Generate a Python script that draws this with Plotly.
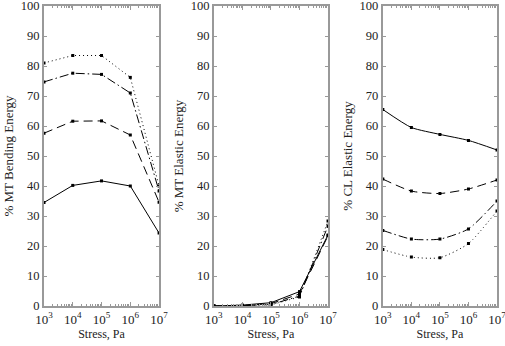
import plotly.graph_objects as go

stress = [1e3, 1e4, 1e5, 1e6, 1e7]

# Panel 1: % MT Bending Energy
mt_bend_solid = [34.5, 40.2, 41.7, 40.0, 24.3]
mt_bend_dash = [57.6, 61.6, 61.7, 57.0, 34.6]
mt_bend_dashdot = [74.7, 77.6, 77.2, 71.0, 38.3]
mt_bend_dot = [81.0, 83.5, 83.5, 76.2, 40.0]

# Panel 2: % MT Elastic Energy
mt_el_solid = [0.0, 0.3, 1.1, 4.8, 23.7]
mt_el_dash = [0.0, 0.1, 0.8, 4.0, 23.4]
mt_el_dashdot = [0.0, 0.1, 0.5, 3.3, 26.7]
mt_el_dot = [0.0, 0.1, 0.4, 3.0, 28.3]

# Panel 3: % CL Elastic Energy
cl_el_solid = [65.5, 59.5, 57.2, 55.2, 52.0]
cl_el_dash = [42.3, 38.3, 37.5, 39.0, 42.0]
cl_el_dashdot = [25.2, 22.3, 22.3, 25.7, 35.0]
cl_el_dot = [18.8, 16.3, 16.1, 20.8, 31.7]

y_titles = ["% MT Bending Energy", "% MT Elastic Energy", "% CL Elastic Energy"]
x_title = "Stress, Pa"
x_ticks = [1e3, 1e4, 1e5, 1e6, 1e7]
x_ticklabels = ["10<sup>3</sup>", "10<sup>4</sup>", "10<sup>5</sup>", "10<sup>6</sup>", "10<sup>7</sup>"]
y_ticks = list(range(0, 101, 10))

panels = [
    [mt_bend_solid, mt_bend_dash, mt_bend_dashdot, mt_bend_dot],
    [mt_el_solid, mt_el_dash, mt_el_dashdot, mt_el_dot],
    [cl_el_solid, cl_el_dash, cl_el_dashdot, cl_el_dot],
]
dashes = ["solid", "9px,5px", "9px,3px,1.5px,3px", "1px,3px"]
shapes = ["linear", "linear", "spline"]

domains = [(0.0, 0.254), (0.375, 0.627), (0.748, 1.0)]

fig = go.Figure()
font_family = "Liberation Serif, serif"
axis_color = "#999999"
text_color = "#222222"

for i, series in enumerate(panels):
    xa = "x" if i == 0 else f"x{i+1}"
    ya = "y" if i == 0 else f"y{i+1}"
    for s, d in zip(series, dashes):
        fig.add_trace(go.Scatter(
            x=stress, y=s, xaxis=xa, yaxis=ya, mode="lines+markers",
            line=dict(color="black", width=1, dash=d, shape=shapes[i], smoothing=0.6),
            marker=dict(color="black", size=3, symbol="square"),
            showlegend=False, hoverinfo="skip",
        ))
    xkey = "xaxis" if i == 0 else f"xaxis{i+1}"
    ykey = "yaxis" if i == 0 else f"yaxis{i+1}"
    fig.layout[xkey] = dict(
        type="log", range=[3, 7], domain=domains[i], anchor=ya,
        tickvals=x_ticks, ticktext=x_ticklabels, ticklabeloverflow="allow",
        ticks="inside", ticklen=4, tickcolor=axis_color,
        showline=True, linecolor=axis_color, linewidth=2, mirror="ticks",
        showgrid=False, zeroline=False,
        minor=dict(ticks="inside", ticklen=2, tickcolor=axis_color, dtick="D1", showgrid=False),
        tickfont=dict(family=font_family, size=13, color=text_color),
        title=dict(text=x_title, font=dict(family=font_family, size=12, color=text_color), standoff=2),
    )
    fig.layout[ykey] = dict(
        range=[0, 100], domain=[0, 1], anchor=xa,
        tickvals=y_ticks, ticks="inside", ticklen=3, tickcolor=axis_color,
        ticklabeloverflow="allow",
        showline=True, linecolor=axis_color, linewidth=2, mirror="ticks",
        showgrid=False, zeroline=False,
        tickfont=dict(family=font_family, size=12.5, color=text_color),
        title=dict(text=y_titles[i], font=dict(family=font_family, size=13, color=text_color), standoff=4),
    )

fig.update_layout(
    width=505, height=346,
    margin=dict(l=44, r=8, t=6, b=40, autoexpand=False),
    paper_bgcolor="white", plot_bgcolor="white",
)

fig.write_html("out.html", config={"displayModeBar": False},
               post_script="document.body.style.margin='0px';")
